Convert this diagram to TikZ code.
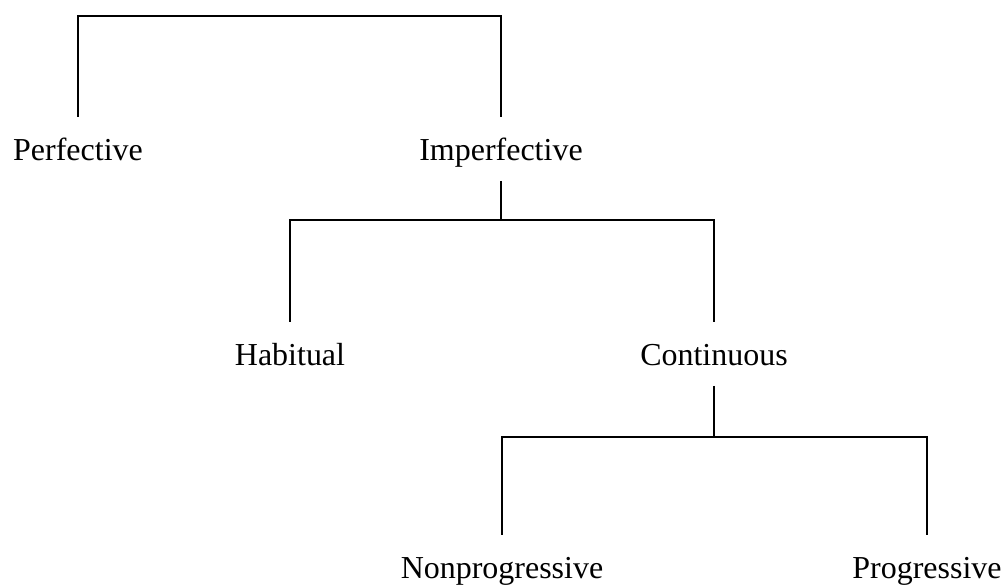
\documentclass[tikz,border=0pt]{standalone}
\usepackage{fontspec}
\setmainfont{Liberation Serif}

\begin{document}
\begin{tikzpicture}[x=0.02cm,y=-0.02cm,line width=1.1pt,
  every node/.style={anchor=base,inner xsep=0pt,inner ysep=0.4cm,
    text height=0.448cm,text depth=0pt,font=\fontsize{18.2}{22}\selectfont}]
  \useasboundingbox (0,0) rectangle (1001,586);
  \node (perf) at (78,160) {Perfective};
  \node (imperf) at (501,160) {Imperfective};
  \node (habit) at (290,365) {Habitual};
  \node (cont) at (714,365) {Continuous};
  \node (nonprog) at (502,578) {Nonprogressive};
  \node (prog) at (927,578) {Progressive};
  \coordinate (bar1) at (501,16);
  \coordinate (bar2) at (501,220);
  \coordinate (bar3) at (714,437);
  \draw (perf) |- (bar1) -- (imperf);
  \draw (imperf) -- (bar2);
  \draw (habit) |- (bar2) -| (cont);
  \draw (cont) -- (bar3);
  \draw (nonprog) |- (bar3) -| (prog);
\end{tikzpicture}
\end{document}
